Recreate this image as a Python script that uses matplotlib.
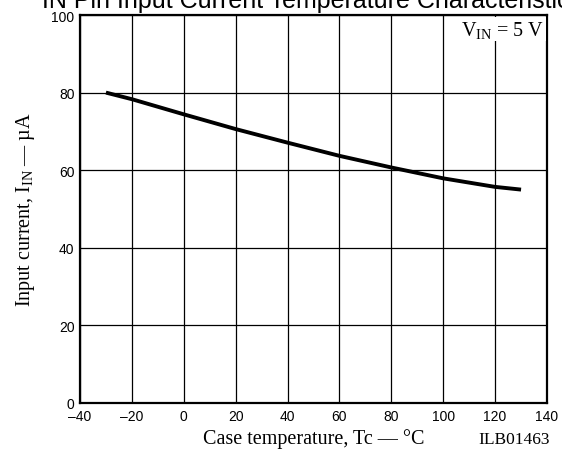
import numpy as np
import matplotlib
matplotlib.use("Agg")
import matplotlib.pyplot as plt

# Kurvenwerte
temp_c = [-30, -20, 0, 20, 40, 60, 80, 100, 120, 130]
current_ua = [80.0, 78.3, 74.4, 70.6, 67.1, 63.7, 60.7, 57.9, 55.7, 55.0]

x_ticks = [-40, -20, 0, 20, 40, 60, 80, 100, 120, 140]
x_tick_labels = ["\u201340", "\u201320", "0", "20", "40", "60", "80", "100", "120", "140"]
y_ticks = [0, 20, 40, 60, 80, 100]

plt.rcParams["mathtext.fontset"] = "custom"
plt.rcParams["mathtext.rm"] = "Liberation Serif"
plt.rcParams["mathtext.it"] = "Liberation Serif:italic"

serif = "Liberation Serif"
sans = "Liberation Sans"

fig = plt.figure(figsize=(5.62, 4.52), dpi=100)
ax = fig.add_axes([80 / 562, 48 / 452, 467 / 562, 388 / 452])

ax.plot(temp_c, current_ua, color="black", lw=2.8, solid_capstyle="butt")

ax.set_xlim(-40, 140)
ax.set_ylim(0, 100)
ax.set_xticks(x_ticks)
ax.set_xticklabels(x_tick_labels, family=sans, fontsize=10)
ax.set_yticks(y_ticks)
ax.set_yticklabels([str(v) for v in y_ticks], family=sans, fontsize=10)
ax.tick_params(length=0, pad=4)
ax.grid(True, color="black", lw=0.9)
ax.set_axisbelow(True)
for s in ax.spines.values():
    s.set_linewidth(1.6)

ax.set_xlabel(r"Case temperature, Tc — °C", family=serif, fontsize=14.5, labelpad=4)
ax.set_ylabel(r"Input current, I$_{\mathrm{IN}}$ — µA", family=serif, fontsize=14.5, labelpad=10)

ax.text(0.994, 0.99, r"V$_{\mathrm{IN}}$ = 5 V", transform=ax.transAxes,
        ha="right", va="top", family=serif, fontsize=14.5,
        bbox=dict(facecolor="white", edgecolor="none", pad=1.0))

fig.text(550 / 562, 1 - 440 / 452, "ILB01463", family=serif, fontsize=12.5,
         ha="right", va="center")

# Titel oben abgeschnitten wie im Original
fig.text(42 / 562, 1 - 8 / 452, "IN Pin Input Current Temperature Characteristic",
         family=sans, fontsize=18, ha="left", va="baseline")

fig.savefig("out.png", dpi=100)
